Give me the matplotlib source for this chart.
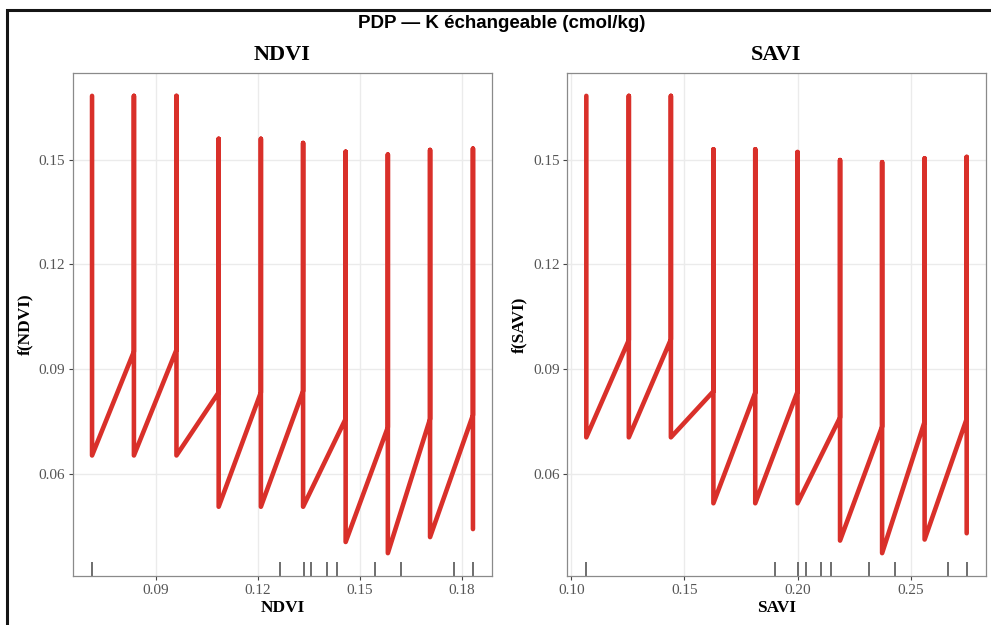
import numpy as np
import matplotlib
matplotlib.use('Agg')
import matplotlib.pyplot as plt
from matplotlib.patches import Rectangle

# PDP grid values (x) and the three curve levels read at each grid point
ndvi_grid = [0.0713, 0.0836, 0.0961, 0.1085, 0.1209, 0.1333, 0.1458, 0.1582, 0.1706, 0.1832]
ndvi_top = [0.1683, 0.1683, 0.1683, 0.1560, 0.1560, 0.1548, 0.1523, 0.1515, 0.1528, 0.1532]
ndvi_mid = [np.nan, 0.0950, 0.0955, 0.0833, 0.0833, 0.0837, 0.0757, 0.0733, 0.0757, 0.0768]
ndvi_low = [0.0652, 0.0652, 0.0652, 0.0505, 0.0505, 0.0505, 0.0404, 0.0372, 0.0418, 0.0441]
ndvi_rug = [0.0713, 0.1265, 0.1336, 0.1357, 0.1402, 0.1433, 0.1543, 0.1621, 0.1777, 0.1832]

savi_grid = [0.1066, 0.1254, 0.1440, 0.1628, 0.1813, 0.2000, 0.2188, 0.2374, 0.2562, 0.2748]
savi_top = [0.1683, 0.1683, 0.1683, 0.1530, 0.1530, 0.1522, 0.1499, 0.1493, 0.1504, 0.1508]
savi_mid = [np.nan, 0.0983, 0.0985, 0.0836, 0.0832, 0.0835, 0.0761, 0.0735, 0.0749, 0.0757]
savi_low = [0.0704, 0.0704, 0.0704, 0.0515, 0.0515, 0.0515, 0.0408, 0.0372, 0.0411, 0.0429]
savi_rug = [0.1066, 0.1899, 0.2000, 0.2037, 0.2103, 0.2148, 0.2315, 0.2433, 0.2664, 0.2748]

yticks = [0.06, 0.09, 0.12, 0.15]
ndvi_xticks = [0.09, 0.12, 0.15, 0.18]
savi_xticks = [0.10, 0.15, 0.20, 0.25]

RED = '#d9302a'
SERIF = ['Liberation Serif', 'DejaVu Serif']


def build_path(grid, top, mid, low):
    xs, ys = [], []
    for i, x in enumerate(grid):
        if not np.isnan(mid[i]):
            xs.append(x)
            ys.append(mid[i])
        xs += [x, x]
        ys += [top[i], low[i]]
    return xs, ys


def expand(lo, hi, f=0.05):
    r = hi - lo
    return lo - f * r, hi + f * r


def draw_panel(ax, name, grid, top, mid, low, rug, xticks, ylim):
    xs, ys = build_path(grid, top, mid, low)
    ax.plot(xs, ys, color=RED, lw=3.3, solid_capstyle='round', solid_joinstyle='round', zorder=3)
    ax.vlines(rug, 0, 0.028, transform=ax.get_xaxis_transform(), color='#555555', lw=1.2, zorder=2)

    ax.set_xlim(*expand(min(grid), max(grid)))
    ax.set_ylim(*ylim)
    ax.set_xticks(xticks)
    ax.set_yticks(yticks)
    ax.set_xticklabels([f'{t:.2f}' for t in xticks])
    ax.set_yticklabels([f'{t:.2f}' for t in yticks])
    ax.grid(True, color='#ebebeb', lw=1.0, zorder=0)
    ax.set_axisbelow(True)
    for s in ax.spines.values():
        s.set_color('#8a8a8a')
        s.set_linewidth(0.9)
    ax.tick_params(length=3, width=0.8, color='#444444', labelcolor='#555555',
                   labelsize=11, pad=2.5)
    for lab in ax.get_xticklabels() + ax.get_yticklabels():
        lab.set_family(SERIF)

    ax.set_title(name, family=SERIF, fontweight='bold', fontsize=16, pad=9)
    ax.set_xlabel(name, family=SERIF, fontweight='bold', fontsize=12.5, labelpad=2.5)
    ax.set_ylabel(f'f({name})', family=SERIF, fontweight='bold', fontsize=12.5, labelpad=4)


fig = plt.figure(figsize=(9.91, 6.25), dpi=100)
ax1 = fig.add_axes([73 / 991, 49 / 625, 419 / 991, 503 / 625])
ax2 = fig.add_axes([567.3 / 991, 49 / 625, 418.4 / 991, 503 / 625])

ylim = expand(min(ndvi_low + savi_low), max(ndvi_top + savi_top))
draw_panel(ax1, 'NDVI', ndvi_grid, ndvi_top, ndvi_mid, ndvi_low, ndvi_rug, ndvi_xticks, ylim)
draw_panel(ax2, 'SAVI', savi_grid, savi_top, savi_mid, savi_low, savi_rug, savi_xticks, ylim)

fig.text(502 / 991, 1 - 23 / 625, 'PDP — K échangeable (cmol/kg)', ha='center', va='center',
         family=['Liberation Sans', 'DejaVu Sans'], fontweight='bold', fontsize=13.5)

# outer frame of the original screenshot
fig.add_artist(Rectangle((6.5 / 991, -0.1), 1.2, 1.1 - 9.5 / 625, transform=fig.transFigure,
                         fill=False, ec='#151515', lw=2.2, clip_on=False))

fig.savefig('out.png', dpi=100)
